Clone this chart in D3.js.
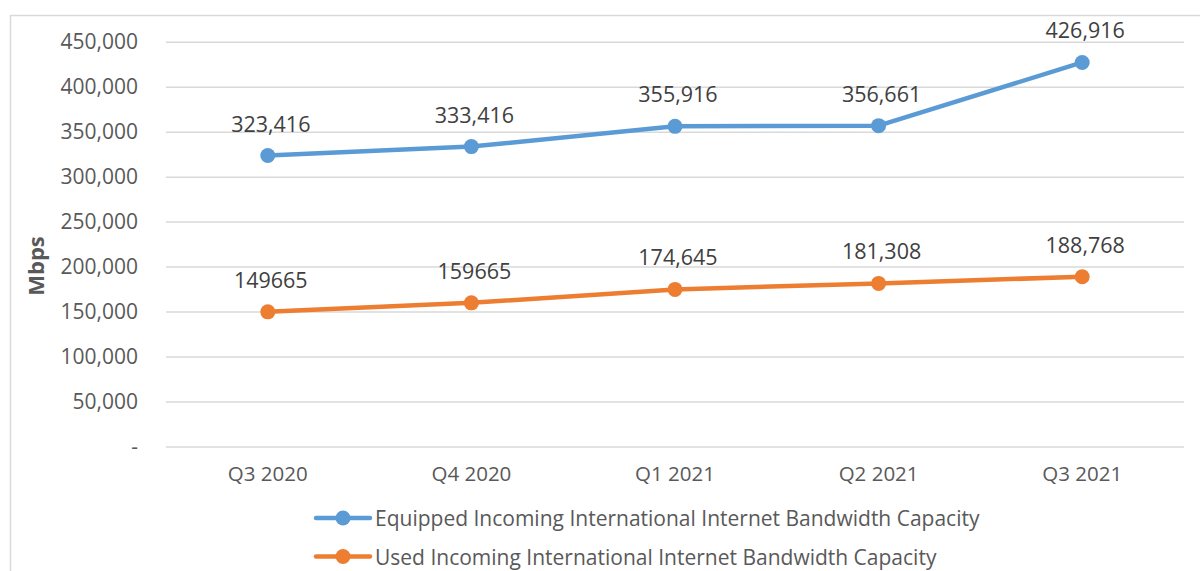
<!DOCTYPE html>
<html>
<head>
<meta charset="utf-8">
<script src="https://cdn.jsdelivr.net/npm/d3@7"></script>
<style>
  html, body { margin: 0; padding: 0; background: #ffffff; }
  svg { display: block; }
  text { font-family: "Open Sans", "Noto Sans", sans-serif; }
</style>
</head>
<body>
<svg id="chart" width="1200" height="571"></svg>
<script>
// Quarterly incoming international internet bandwidth (Mbps)
const quarters = ["Q3 2020", "Q4 2020", "Q1 2021", "Q2 2021", "Q3 2021"];
const equipped = [323416, 333416, 355916, 356661, 426916];
const used = [149665, 159665, 174645, 181308, 188768];
const equippedLabels = ["323,416", "333,416", "355,916", "356,661", "426,916"];
const usedLabels = ["149665", "159665", "174,645", "181,308", "188,768"];
const yTicks = [0, 50000, 100000, 150000, 200000, 250000, 300000, 350000, 400000, 450000];
const seriesNames = [
  "Equipped Incoming International Internet Bandwidth Capacity",
  "Used Incoming International Internet Bandwidth Capacity"
];
const seriesColors = ["#5b9bd5", "#ed7d31"];

const svg = d3.select("#chart");

// outer chart frame
svg.append("rect")
  .attr("x", 10.5).attr("y", 15.5)
  .attr("width", 1200).attr("height", 600)
  .attr("fill", "#ffffff")
  .attr("stroke", "#d9d9d9").attr("stroke-width", 1.5);

const plot = { left: 166, right: 1184, top: 41.7, bottom: 446.5 };

const x = d3.scaleBand().domain(quarters).range([plot.left, plot.right]).padding(0);
const cx = q => x(q) + x.bandwidth() / 2;
const y = d3.scaleLinear().domain([0, 450000]).range([plot.bottom, plot.top]);

// horizontal gridlines
const grid = svg.append("g")
  .attr("transform", `translate(${plot.left},0)`)
  .call(d3.axisLeft(y).tickValues(yTicks).tickSize(-(plot.right - plot.left)).tickFormat(""));
grid.select(".domain").remove();
grid.selectAll(".tick line").attr("stroke", "#d9d9d9").attr("stroke-width", 1.5);

// y axis labels
const yAxis = svg.append("g")
  .attr("transform", `translate(${plot.left},0)`)
  .call(d3.axisLeft(y).tickValues(yTicks).tickSize(0).tickPadding(28)
    .tickFormat(d => d === 0 ? "-" : d3.format(",")(d)));
yAxis.select(".domain").remove();
yAxis.selectAll(".tick text")
  .attr("fill", "#595959")
  .style("font-size", "21px")
  .style("font-family", "'Open Sans', sans-serif");

// x axis labels
const xAxis = svg.append("g")
  .attr("transform", `translate(0,${plot.bottom})`)
  .call(d3.axisBottom(x).tickSize(0).tickPadding(20));
xAxis.select(".domain").remove();
xAxis.selectAll(".tick text")
  .attr("fill", "#595959")
  .style("font-size", "20.5px")
  .style("font-family", "'Open Sans', sans-serif");

// y axis title
svg.append("text")
  .attr("transform", "translate(35,266) rotate(-90)")
  .attr("text-anchor", "middle")
  .attr("dominant-baseline", "central")
  .attr("fill", "#595959")
  .style("font-size", "22px")
  .style("font-weight", "bold")
  .text("Mbps");

const line = d3.line().x(d => cx(d.q)).y(d => y(d.v));

const series = [
  { values: equipped, labels: equippedLabels, color: seriesColors[0] },
  { values: used, labels: usedLabels, color: seriesColors[1] }
];

series.forEach(s => {
  const pts = quarters.map((q, i) => ({ q, v: s.values[i], label: s.labels[i] }));
  const g = svg.append("g");
  g.append("path")
    .datum(pts)
    .attr("d", line)
    .attr("fill", "none")
    .attr("stroke", s.color)
    .attr("stroke-width", 4.5)
    .attr("stroke-linejoin", "round")
    .attr("stroke-linecap", "round");
  g.selectAll("circle")
    .data(pts)
    .join("circle")
    .attr("cx", d => cx(d.q))
    .attr("cy", d => y(d.v))
    .attr("r", 7.5)
    .attr("fill", s.color);
  g.selectAll("text")
    .data(pts)
    .join("text")
    .attr("x", d => cx(d.q) + 3)
    .attr("y", d => y(d.v) - 32.5)
    .attr("text-anchor", "middle")
    .attr("dominant-baseline", "central")
    .attr("fill", "#404040")
    .style("font-size", "21.5px")
    .text(d => d.label);
});

// legend
const legend = svg.append("g");
seriesNames.forEach((name, i) => {
  const ly = 518 + i * 38.5;
  legend.append("line")
    .attr("x1", 316).attr("x2", 370)
    .attr("y1", ly).attr("y2", ly)
    .attr("stroke", seriesColors[i]).attr("stroke-width", 4.5)
    .attr("stroke-linecap", "round");
  legend.append("circle")
    .attr("cx", 343).attr("cy", ly).attr("r", 7.5)
    .attr("fill", seriesColors[i]);
  legend.append("text")
    .attr("x", 375).attr("y", ly)
    .attr("dominant-baseline", "central")
    .attr("fill", "#595959")
    .style("font-size", "21px")
    .text(name);
});
</script>
</body>
</html>
